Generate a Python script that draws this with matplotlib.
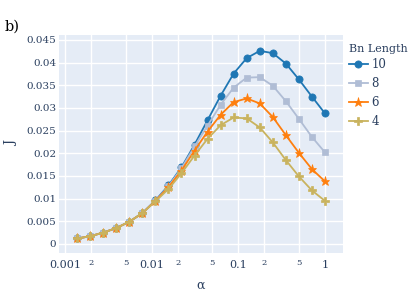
import matplotlib
matplotlib.use("Agg")
import matplotlib.pyplot as plt

alpha = [0.001381, 0.001953, 0.002762, 0.003906, 0.005524, 0.0078125, 0.011049,
         0.015625, 0.022097, 0.03125, 0.044194, 0.0625, 0.088388, 0.125,
         0.176777, 0.25, 0.353553, 0.5, 0.707107, 1.0]

J_10 = [0.0012, 0.0017, 0.0025, 0.0035, 0.0049, 0.0068, 0.0096, 0.0129, 0.0169, 0.0219,
        0.0273, 0.0327, 0.0376, 0.0410, 0.0426, 0.0421, 0.0398, 0.0363, 0.0325, 0.0288]
J_8 = [0.0012, 0.0017, 0.0025, 0.0035, 0.0049, 0.0068, 0.0095, 0.0127, 0.0167, 0.0215,
       0.0261, 0.0307, 0.0345, 0.0367, 0.0368, 0.0349, 0.0315, 0.0276, 0.0236, 0.0202]
J_6 = [0.0012, 0.0017, 0.0025, 0.0035, 0.0049, 0.0068, 0.0095, 0.0125, 0.0162, 0.0206,
       0.0248, 0.0285, 0.0313, 0.0321, 0.0310, 0.0280, 0.0240, 0.0201, 0.0165, 0.0138]
J_4 = [0.0012, 0.0017, 0.0025, 0.0035, 0.0049, 0.0068, 0.0094, 0.0121, 0.0156, 0.0195,
       0.0232, 0.0262, 0.0279, 0.0277, 0.0257, 0.0224, 0.0185, 0.0149, 0.0118, 0.0095]

series_labels = ["10", "8", "6", "4"]
series_values = [J_10, J_8, J_6, J_4]
colors = ["#1f77b4", "#b0bdd5", "#ff7f0e", "#c9b35e"]
markers = ["o", "s", "*", "P"]
msizes = [5.2, 4.8, 6.8, 5.8]

y_ticks = [0, 0.005, 0.01, 0.015, 0.02, 0.025, 0.03, 0.035, 0.04, 0.045]
y_tick_labels = ["0", "0.005", "0.01", "0.015", "0.02", "0.025", "0.03", "0.035", "0.04", "0.045"]
x_major = [0.001, 0.01, 0.1, 1]
x_major_labels = ["0.001", "0.01", "0.1", "1"]
x_minor = [0.002, 0.005, 0.02, 0.05, 0.2, 0.5]
x_minor_labels = ["2", "5", "2", "5", "2", "5"]

FONT = "DejaVu Serif"
TXT = "#2a3f5f"
plt.rcParams["font.family"] = FONT

fig = plt.figure(figsize=(4.15, 2.96), dpi=100)
ax = fig.add_axes([59/415, 1-253/296, (343-59)/415, (253-35)/296])
ax.set_facecolor("#e5ecf6")
for s in ax.spines.values():
    s.set_visible(False)

for lab, vals, c, m, ms in zip(series_labels, series_values, colors, markers, msizes):
    ax.plot(alpha, vals, color=c, marker=m, markersize=ms, linewidth=1.3, label=lab,
            markeredgewidth=0.5, markeredgecolor=c, zorder=3)

ax.set_xscale("log")
ax.set_xlim(10**-3.069, 10**0.208)
ax.set_ylim(-0.002, 0.0461)

ax.set_xticks(x_major)
ax.set_xticklabels(x_major_labels)
ax.set_xticks(x_minor, minor=True)
ax.set_xticklabels(x_minor_labels, minor=True)
ax.set_yticks(y_ticks)
ax.set_yticklabels(y_tick_labels)

ax.tick_params(axis="x", which="major", length=0, pad=5, labelsize=8, labelcolor=TXT)
ax.tick_params(axis="x", which="minor", length=0, pad=4, labelsize=6, labelcolor=TXT)
ax.tick_params(axis="y", which="major", length=0, pad=2, labelsize=7.5, labelcolor=TXT)

ax.grid(True, which="both", color="white", linewidth=1.0, zorder=0)
ax.set_axisbelow(True)

ax.set_xlabel("α", fontsize=9, color=TXT, labelpad=6)
ax.set_ylabel("J", fontsize=9, color=TXT, labelpad=6)

leg = ax.legend(title="Bn Length", loc="upper left", bbox_to_anchor=(349/415, 1-44/296),
                bbox_transform=fig.transFigure, frameon=False, fontsize=8.5,
                title_fontsize=8, handlelength=1.6, handletextpad=0.3,
                labelspacing=0.5, borderaxespad=0, borderpad=0)
leg._legend_box.align = "left"
leg._legend_box.sep = 3
for t in leg.get_texts():
    t.set_color(TXT)
leg.get_title().set_color(TXT)

fig.text(5/415, 1-27/296, "b)", fontsize=10.5, color="#000000", va="center", ha="left")

fig.savefig("out.png", dpi=100)
